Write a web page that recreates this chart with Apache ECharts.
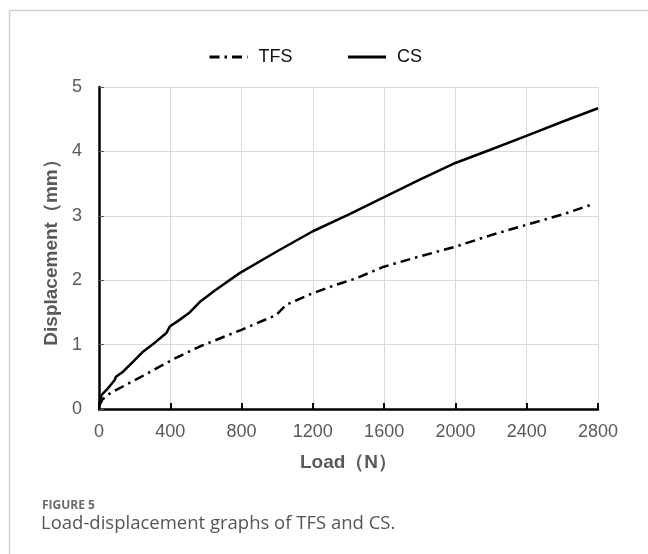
<!DOCTYPE html>
<html>
<head>
<meta charset="utf-8">
<script src="https://cdn.jsdelivr.net/npm/echarts@6/dist/echarts.min.js"></script>
<style>
html,body{margin:0;padding:0;background:#fff;}
#chart{width:648px;height:554px;}
</style>
</head>
<body>
<div id="chart"></div>
<script>
const xTicks = [0, 400, 800, 1200, 1600, 2000, 2400, 2800];
const yTicks = [0, 1, 2, 3, 4, 5];

const csLoad = [0, 15, 50, 88, 95, 135, 200, 247, 300, 378, 397, 450, 509, 565, 650, 789, 1000, 1200, 1400, 1600, 1800, 2000, 2200, 2398, 2600, 2800];
const csDisp = [0.08, 0.22, 0.32, 0.45, 0.5, 0.58, 0.76, 0.89, 1.0, 1.18, 1.28, 1.38, 1.5, 1.66, 1.84, 2.11, 2.45, 2.76, 3.02, 3.29, 3.56, 3.82, 4.03, 4.24, 4.46, 4.67];

const tfsLoad = [0, 20, 60, 154, 250, 415, 565, 799, 995, 1051, 1201, 1332, 1444, 1599, 1800, 2000, 2200, 2398, 2600, 2760];
const tfsDisp = [0.05, 0.15, 0.24, 0.38, 0.52, 0.77, 0.97, 1.23, 1.46, 1.62, 1.8, 1.93, 2.03, 2.21, 2.37, 2.52, 2.7, 2.86, 3.02, 3.17];

const zip = (a, b) => a.map((v, i) => [v, b[i]]);

const chart = echarts.init(document.getElementById('chart'), null, {renderer: 'canvas'});
const font = '"Liberation Sans", Arial, sans-serif';
const dashDot = [10, 5, 2.5, 5];
chart.setOption({
  animation: false,
  backgroundColor: '#fff',
  textStyle: {fontFamily: font},
  grid: {left: 99, right: 50, top: 87, bottom: 145},
  legend: {
    top: 43,
    left: 203,
    itemWidth: 38,
    itemHeight: 16,
    itemGap: 54,
    textStyle: {fontSize: 18, color: '#111', fontFamily: font, padding: [0, 0, 0, 6]},
    itemStyle: {opacity: 0},
    data: [
      {name: 'TFS', lineStyle: {type: dashDot, width: 3, color: '#000'}},
      {name: 'CS', lineStyle: {type: 'solid', width: 3, color: '#000'}}
    ]
  },
  xAxis: {
    type: 'value',
    min: 0, max: 2800, interval: 400,
    name: 'Load（N）',
    nameLocation: 'middle',
    nameGap: 44,
    nameTextStyle: {fontSize: 19, fontWeight: 'bold', color: '#595959', fontFamily: font},
    axisLine: {show: true, lineStyle: {color: '#000', width: 2.5}},
    axisTick: {show: true, inside: true, length: 6, lineStyle: {color: '#000', width: 2}},
    axisLabel: {fontSize: 18, color: '#595959', margin: 14, formatter: v => xTicks.includes(v) ? String(v) : ''},
    splitLine: {show: true, lineStyle: {color: '#d9d9d9', width: 1}}
  },
  yAxis: {
    type: 'value',
    min: 0, max: 5, interval: 1,
    name: 'Displacement（mm）',
    nameLocation: 'middle',
    nameGap: 36,
    nameTextStyle: {fontSize: 19, fontWeight: 'bold', color: '#595959', fontFamily: font},
    axisLine: {show: true, lineStyle: {color: '#000', width: 2.5}},
    axisTick: {show: true, inside: true, length: 5, lineStyle: {color: '#555', width: 1}},
    axisLabel: {fontSize: 18, color: '#595959', margin: 17, formatter: v => yTicks.includes(v) ? String(v) : ''},
    splitLine: {show: true, lineStyle: {color: '#d9d9d9', width: 1}}
  },
  series: [
    {
      name: 'TFS',
      type: 'line',
      data: zip(tfsLoad, tfsDisp),
      symbol: 'none',
      smooth: false,
      lineStyle: {color: '#000', width: 2.5, type: dashDot, cap: 'butt'},
      itemStyle: {color: '#000'},
      z: 3
    },
    {
      name: 'CS',
      type: 'line',
      data: zip(csLoad, csDisp),
      symbol: 'none',
      smooth: false,
      lineStyle: {color: '#000', width: 2.5},
      itemStyle: {color: '#000'},
      z: 4
    }
  ],
  graphic: [
    {type: 'line', shape: {x1: 9.5, y1: 10.5, x2: 648, y2: 10.5}, style: {stroke: '#d0d0d0', lineWidth: 1.5}},
    {type: 'line', shape: {x1: 9.5, y1: 10.5, x2: 9.5, y2: 554}, style: {stroke: '#d0d0d0', lineWidth: 1.5}},
    {type: 'text', left: 42, top: 500, style: {text: 'FIGURE 5', fontSize: 12, fontWeight: 'bold', fill: '#6a6a6a', fontFamily: '"Open Sans", "Noto Sans", sans-serif'}},
    {type: 'text', left: 41, top: 514, style: {text: 'Load-displacement graphs of TFS and CS.', fontSize: 18.5, fill: '#555', fontFamily: '"Open Sans", "Noto Sans", sans-serif'}}
  ]
});
</script>
</body>
</html>
